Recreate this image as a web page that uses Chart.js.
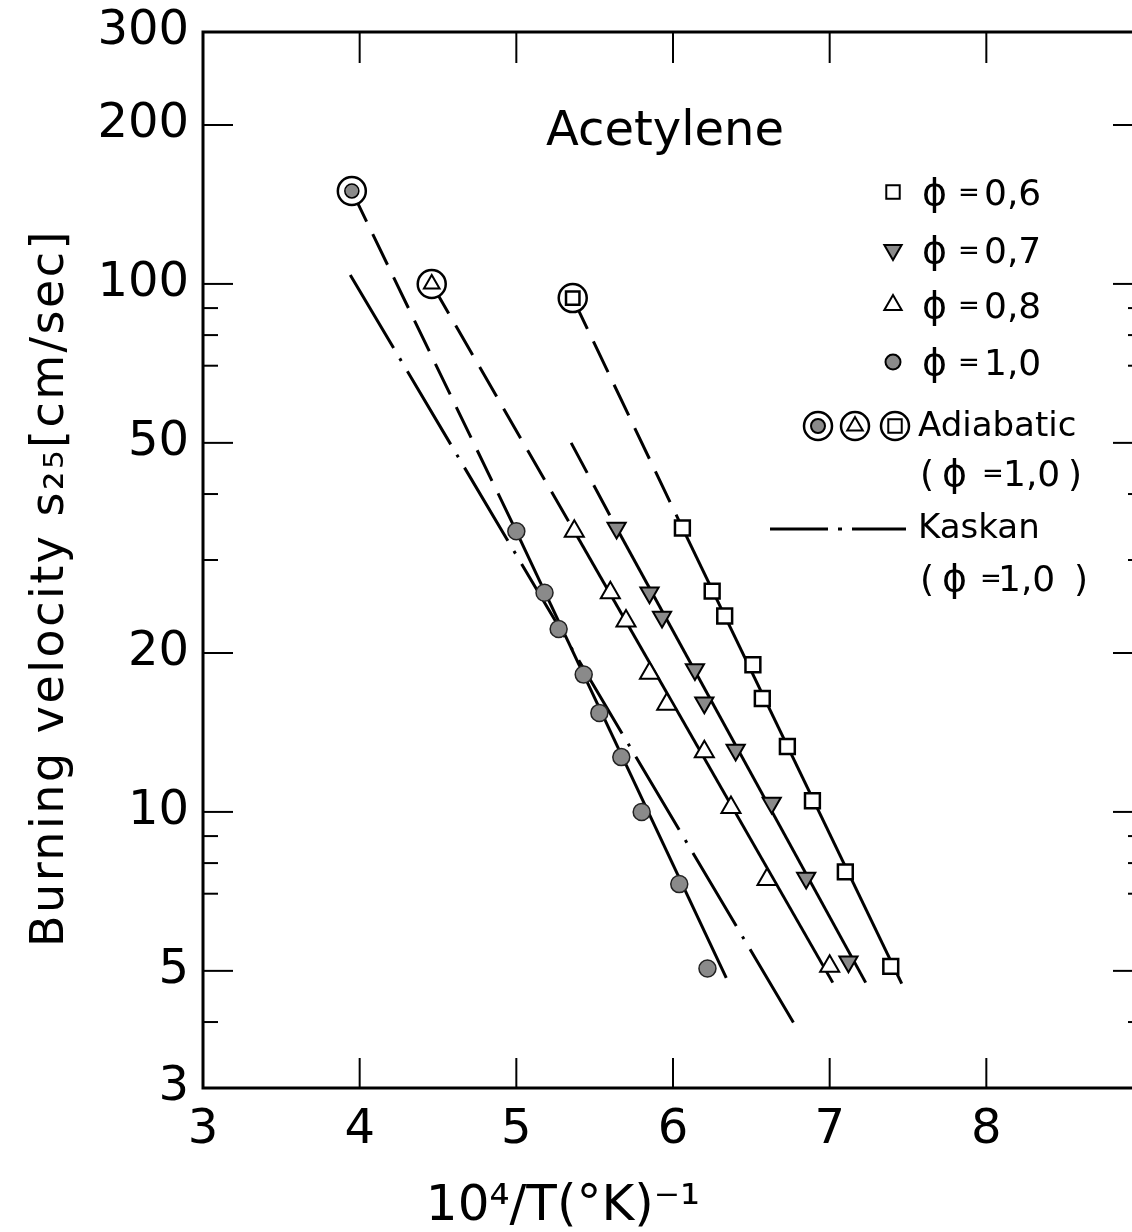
<!DOCTYPE html>
<html>
<head>
<meta charset="utf-8">
<title>Acetylene burning velocity</title>
<script src="https://cdn.jsdelivr.net/npm/chart.js@4.4.1/dist/chart.umd.min.js"></script>
<style>
  html, body { margin: 0; padding: 0; background: #fff; overflow: hidden; }
  #wrap { width: 1132px; height: 1232px; overflow: hidden; }
  canvas { display: block; }
</style>
</head>
<body>
<div id="wrap"><canvas id="chart" width="1180" height="1232"></canvas></div>
<script>
// Axis ticks
const xTicks = [3, 4, 5, 6, 7, 8, 9];
const yLabelTicks = [3, 5, 10, 20, 50, 100, 200, 300];
const yMajorMarks = [5, 10, 20, 50, 100, 200];
const yMinorMarks = [4, 7, 8, 9, 30, 40, 70, 80, 90];

// Measured points (10^4/T, burning velocity cm/sec)
const phi06X = [6.06, 6.25, 6.33, 6.51, 6.57, 6.73, 6.89, 7.10, 7.39];
const phi06Y = [34.5, 26.2, 23.5, 19.0, 16.4, 13.3, 10.5, 7.7, 5.1];
const phi07X = [5.64, 5.85, 5.93, 6.14, 6.20, 6.40, 6.63, 6.85, 7.12];
const phi07Y = [34.5, 26.0, 23.4, 18.6, 16.1, 13.1, 10.4, 7.5, 5.2];
const phi08X = [5.37, 5.60, 5.70, 5.85, 5.96, 6.20, 6.37, 6.60, 7.00];
const phi08Y = [34.0, 26.0, 23.0, 18.3, 16.0, 13.0, 10.2, 7.45, 5.1];
const phi10X = [5.00, 5.18, 5.27, 5.43, 5.53, 5.67, 5.80, 6.04, 6.22];
const phi10Y = [34.0, 26.0, 22.2, 18.2, 15.4, 12.7, 10.0, 7.3, 5.05];

// Adiabatic flame points (phi = 1.0), circled markers
const adiabaticX = [3.95, 4.46, 5.36];
const adiabaticY = [150, 100, 94];

// Fitted lines: solid through data, dashed back to the adiabatic point
const fit06X = [6.06, 7.46];
const fit06Y = [34.5, 4.73];
const ext06X = [5.36, 6.06];
const ext06Y = [94, 34.5];
const fit07X = [5.64, 7.23];
const fit07Y = [34.5, 4.75];
const ext07X = [5.35, 5.64];
const ext07Y = [50, 34.5];
const fit08X = [5.37, 7.02];
const fit08Y = [34.0, 4.75];
const ext08X = [4.46, 5.37];
const ext08Y = [100, 34.0];
const fit10X = [5.00, 6.34];
const fit10Y = [34.0, 4.85];
const ext10X = [3.95, 5.00];
const ext10Y = [150, 34.0];
const kaskanX = [3.94, 6.78];
const kaskanY = [104, 3.94];

const pts = (xs, ys) => xs.map((x, i) => ({ x: x, y: ys[i] }));
const FONT = 'DejaVu Sans';

function lineSet(xs, ys, dash) {
    return {
        data: pts(xs, ys),
        showLine: true,
        borderColor: '#000',
        borderWidth: 3,
        borderDash: dash || [],
        pointRadius: 0,
        order: 3
    };
}

// Frame and inward tick marks
const frameTicks = {
    id: 'frameTicks',
    afterDatasetsDraw(chart) {
        const { ctx, chartArea: a, scales: { x, y } } = chart;
        const seg = (x1, y1, x2, y2) => {
            ctx.beginPath(); ctx.moveTo(x1, y1); ctx.lineTo(x2, y2); ctx.stroke();
        };
        ctx.save();
        ctx.strokeStyle = '#000';
        ctx.lineWidth = 2;
        xTicks.forEach(v => {
            const px = x.getPixelForValue(v);
            seg(px, a.bottom, px, a.bottom - 30);
            seg(px, a.top, px, a.top + 31);
        });
        yMajorMarks.forEach(v => {
            const py = y.getPixelForValue(v);
            seg(a.left, py, a.left + 30, py);
            seg(a.right, py, a.right - 30, py);
        });
        yMinorMarks.forEach(v => {
            const py = y.getPixelForValue(v);
            seg(a.left, py, a.left + 15, py);
            seg(a.right, py, a.right - 15, py);
        });
        ctx.lineWidth = 3;
        ctx.strokeRect(a.left, a.top, a.right - a.left, a.bottom - a.top);
        ctx.restore();
    }
};

// Titles and hand-placed legend
const annotations = {
    id: 'annotations',
    afterDraw(chart) {
        const ctx = chart.ctx;
        const drawPoint = Chart.helpers.drawPoint;
        const text = (s, x, y, size, align) => {
            ctx.font = size + 'px "' + FONT + '"';
            ctx.textAlign = align || 'left';
            ctx.fillText(s, x, y);
        };
        ctx.save();
        ctx.fillStyle = '#000';
        ctx.strokeStyle = '#000';
        ctx.textBaseline = 'alphabetic';

        text('Acetylene', 665, 145, 48, 'center');

        // axis titles
        text('10\u2074/T(\u00B0K)\u207B\u00B9', 563, 1220, 50, 'center');
        ctx.save();
        ctx.translate(63, 588);
        ctx.rotate(-Math.PI / 2);
        ctx.letterSpacing = '2.5px';
        text('Burning velocity s\u2082\u2085[cm/sec]', 0, 0, 46, 'center');
        ctx.restore();

        // phi rows
        const rows = [
            { y: 192, label: '0,6', style: 'rect', r: 9.5, rot: 0, fill: '#fff' },
            { y: 250, label: '0,7', style: 'triangle', r: 10, rot: 180, fill: '#8a8a8a' },
            { y: 305, label: '0,8', style: 'triangle', r: 10, rot: 0, fill: '#fff' },
            { y: 362, label: '1,0', style: 'circle', r: 7.5, rot: 0, fill: '#8a8a8a' }
        ];
        rows.forEach(r => {
            ctx.fillStyle = r.fill;
            ctx.lineWidth = 2;
            drawPoint(ctx, { pointStyle: r.style, radius: r.r, rotation: r.rot, borderWidth: 2 }, 893, r.y);
            ctx.fillStyle = '#000';
            text('\u03D5', 922, r.y + 13, 38);
            text('=', 958, r.y + 9, 26);
            text(r.label, 984, r.y + 13, 36);
        });

        // adiabatic legend markers
        const adX = [818, 855, 895];
        const inner = [
            { style: 'circle', r: 7, fill: '#8a8a8a' },
            { style: 'triangle', r: 9, fill: '#fff' },
            { style: 'rect', r: 9.5, fill: '#fff' }
        ];
        adX.forEach((x, i) => {
            ctx.fillStyle = '#fff';
            ctx.lineWidth = 2.5;
            drawPoint(ctx, { pointStyle: 'circle', radius: 14, borderWidth: 2.5 }, x, 426);
            ctx.fillStyle = inner[i].fill;
            ctx.lineWidth = 2;
            drawPoint(ctx, { pointStyle: inner[i].style, radius: inner[i].r, borderWidth: 2 }, x, 426);
        });
        ctx.fillStyle = '#000';
        text('Adiabatic', 918, 436, 34);
        text('(', 920, 486, 36);
        text('\u03D5', 942, 486, 38);
        text('=', 982, 482, 26);
        text('1,0', 1003, 486, 36);
        text(')', 1068, 486, 36);

        // Kaskan legend line
        ctx.lineWidth = 3;
        ctx.setLineDash([58, 10, 4, 10]);
        ctx.beginPath(); ctx.moveTo(770, 529); ctx.lineTo(906, 529); ctx.stroke();
        ctx.setLineDash([]);
        text('Kaskan', 918, 538, 34);
        text('(', 920, 591, 36);
        text('\u03D5', 942, 591, 38);
        text('=', 980, 587, 26);
        text('1,0', 998, 591, 36);
        text(')', 1074, 591, 36);
        ctx.restore();
    }
};

const ctx = document.getElementById('chart');
new Chart(ctx, {
    type: 'scatter',
    data: {
        datasets: [
            lineSet(fit06X, fit06Y),
            lineSet(ext06X, ext06Y, [34, 14]),
            lineSet(fit07X, fit07Y),
            lineSet(ext07X, ext07Y, [34, 14]),
            lineSet(fit08X, fit08Y),
            lineSet(ext08X, ext08Y, [34, 14]),
            lineSet(fit10X, fit10Y),
            lineSet(ext10X, ext10Y, [34, 14]),
            lineSet(kaskanX, kaskanY, [85, 12, 3, 12]),
            {
                label: 'phi = 0.6',
                data: pts(phi06X, phi06Y),
                pointStyle: 'rect',
                pointRadius: 10.5,
                pointBackgroundColor: '#fff',
                pointBorderColor: '#000',
                pointBorderWidth: 2.5,
                order: 1
            },
            {
                label: 'phi = 0.7',
                data: pts(phi07X, phi07Y),
                pointStyle: 'triangle',
                pointRotation: 180,
                pointRadius: 10.5,
                pointBackgroundColor: '#8a8a8a',
                pointBorderColor: '#000',
                pointBorderWidth: 2,
                order: 1
            },
            {
                label: 'phi = 0.8',
                data: pts(phi08X, phi08Y),
                pointStyle: 'triangle',
                pointRadius: 11,
                pointBackgroundColor: '#fff',
                pointBorderColor: '#000',
                pointBorderWidth: 2,
                order: 1
            },
            {
                label: 'phi = 1.0',
                data: pts(phi10X, phi10Y),
                pointStyle: 'circle',
                pointRadius: 8.5,
                pointBackgroundColor: '#8a8a8a',
                pointBorderColor: '#222',
                pointBorderWidth: 1.5,
                order: 1
            },
            {
                label: 'Adiabatic ring',
                data: pts(adiabaticX, adiabaticY),
                pointStyle: 'circle',
                pointRadius: 14,
                pointBackgroundColor: '#fff',
                pointBorderColor: '#000',
                pointBorderWidth: 2.5,
                order: 2
            },
            {
                label: 'Adiabatic',
                data: pts(adiabaticX, adiabaticY),
                pointStyle: ['circle', 'triangle', 'rect'],
                pointRadius: [7, 9, 9.5],
                pointBackgroundColor: ['#8a8a8a', '#fff', '#fff'],
                pointBorderColor: '#000',
                pointBorderWidth: [1.5, 2, 2.5],
                order: 0
            }
        ]
    },
    options: {
        responsive: false,
        animation: false,
        events: [],
        layout: { padding: { top: 32, right: 37, left: 0, bottom: 0 } },
        plugins: {
            legend: { display: false },
            tooltip: { enabled: false }
        },
        scales: {
            x: {
                type: 'linear',
                min: 3,
                max: 9,
                afterBuildTicks: s => { s.ticks = xTicks.map(v => ({ value: v })); },
                afterFit: s => { s.height = 144; },
                grid: { display: false, drawTicks: false },
                border: { display: false },
                ticks: {
                    autoSkip: false,
                    maxRotation: 0,
                    padding: 14,
                    color: '#000',
                    font: { family: FONT, size: 48 },
                    callback: v => (v === 9 ? '' : String(v))
                }
            },
            y: {
                type: 'logarithmic',
                min: 3,
                max: 300,
                afterBuildTicks: s => { s.ticks = yLabelTicks.map(v => ({ value: v })); },
                afterFit: s => { s.width = 203; },
                grid: { display: false, drawTicks: false },
                border: { display: false },
                ticks: {
                    autoSkip: false,
                    padding: 14,
                    color: '#000',
                    font: { family: FONT, size: 48, lineHeight: 0.7 },
                    callback: v => String(v)
                }
            }
        }
    },
    plugins: [frameTicks, annotations]
});
</script>
</body>
</html>
